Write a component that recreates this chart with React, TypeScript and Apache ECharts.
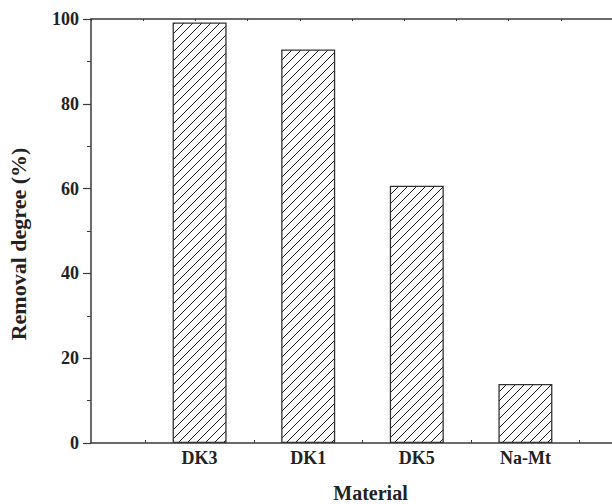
import { useEffect, useRef } from "react";
import * as echarts from "echarts";

// Removal degree per adsorbent material
const materials = ["DK3", "DK1", "DK5", "Na-Mt"];
const removalDegree = [99.2, 92.8, 60.7, 13.9];
const yMin = 0;
const yMax = 100;
const yStep = 20;

const serif = "'Liberation Serif', 'Times New Roman', serif";
const axisColor = "#3a3a3a";

// Small tile with one diagonal stroke, repeated to hatch the bars
function makeHatchTile(): HTMLCanvasElement {
  const s = 9;
  const c = document.createElement("canvas");
  c.width = s;
  c.height = s;
  const ctx = c.getContext("2d")!;
  ctx.fillStyle = "#ffffff";
  ctx.fillRect(0, 0, s, s);
  ctx.strokeStyle = "#1e1e1e";
  ctx.lineWidth = 1;
  ctx.beginPath();
  ctx.moveTo(-1, s + 1);
  ctx.lineTo(s + 1, -1);
  ctx.moveTo(-1, 1);
  ctx.lineTo(1, -1);
  ctx.moveTo(s - 1, s + 1);
  ctx.lineTo(s + 1, s - 1);
  ctx.stroke();
  return c;
}

export default function App() {
  const ref = useRef<HTMLDivElement>(null);

  useEffect(() => {
    if (!ref.current) return;
    const chart = echarts.init(ref.current, undefined, { renderer: "svg" });
    const hatch = makeHatchTile();

    chart.setOption({
      animation: false,
      backgroundColor: "#ffffff",
      grid: {
        left: 91,
        top: 19,
        right: -22,
        bottom: 61,
        containLabel: false,
        outerBoundsMode: "none",
      },
      xAxis: [
        {
          type: "value",
          position: "bottom",
          min: 0,
          max: materials.length + 1,
          interval: 1,
          splitLine: { show: false },
          axisLine: { show: true, lineStyle: { color: axisColor, width: 1.5 } },
          axisTick: { show: false, inside: true },
          minorTick: {
            show: true,
            splitNumber: 2,
            length: 3,
            lineStyle: { color: axisColor, width: 1 },
          },
          minorSplitLine: { show: false },
          axisLabel: {
            margin: 6,
            fontSize: 18,
            fontWeight: "bold",
            fontFamily: serif,
            color: "#222",
            formatter: (v: number) => materials[Math.round(v) - 1] ?? "",
          },
          name: "Material",
          nameLocation: "middle",
          nameGap: 40,
          nameMoveOverlap: false,
          nameTextStyle: {
            fontSize: 20,
            lineHeight: 20,
            fontWeight: "bold",
            fontFamily: serif,
            color: "#222",
            padding: [0, 0, 0, 16],
          },
        },
        {
          type: "value",
          position: "top",
          min: 0,
          max: 10.4,
          interval: 1,
          splitLine: { show: false },
          axisLine: { show: true, lineStyle: { color: axisColor, width: 1.5 } },
          axisTick: { show: true, inside: true, length: 2, lineStyle: { color: axisColor } },
          axisLabel: { show: false },
        },
      ],
      yAxis: {
        type: "value",
        min: yMin,
        max: yMax,
        interval: yStep,
        splitLine: { show: false },
        axisLine: { show: true, lineStyle: { color: axisColor, width: 1.5 } },
        axisTick: { show: true, length: 8, lineStyle: { color: axisColor, width: 1.2 } },
        minorTick: {
          show: true,
          splitNumber: 2,
          length: 4,
          lineStyle: { color: axisColor, width: 1 },
        },
        minorSplitLine: { show: false },
        axisLabel: {
          margin: 12,
          fontSize: 18,
          fontWeight: "bold",
          fontFamily: serif,
          color: "#222",
        },
        name: "Removal degree (%)",
        nameLocation: "middle",
        nameGap: 62,
        nameMoveOverlap: false,
        nameTextStyle: {
          fontSize: 22,
          fontWeight: "bold",
          fontFamily: serif,
          color: "#222",
          padding: [0, 26, 0, 0],
        },
      },
      series: [
        {
          type: "bar",
          xAxisIndex: 0,
          barWidth: 54,
          data: materials.map((_, i) => [i + 1, removalDegree[i]]),
          itemStyle: {
            color: { image: hatch, repeat: "repeat" },
            borderColor: "#333",
            borderWidth: 1.3,
          },
        },
      ],
    });

    return () => chart.dispose();
  }, []);

  return (
    <div
      ref={ref}
      style={{ position: "fixed", left: 0, top: 0, width: 612, height: 504, background: "#fff" }}
    />
  );
}
